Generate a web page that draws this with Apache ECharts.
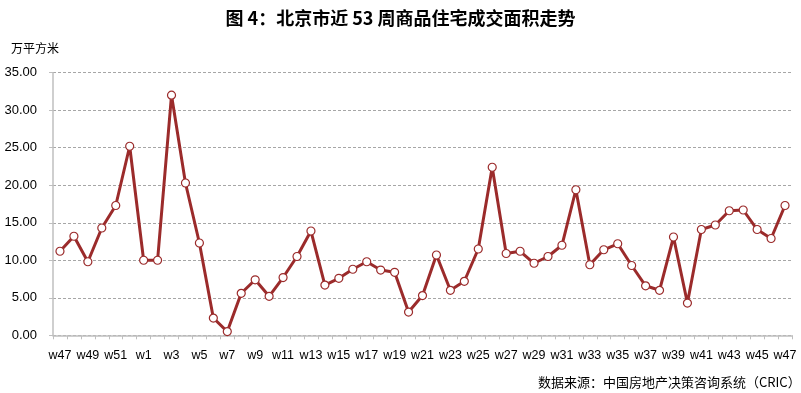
<!DOCTYPE html>
<html><head><meta charset="utf-8">
<script src="https://cdn.jsdelivr.net/npm/echarts@6/dist/echarts.min.js"></script>
<style>html,body{margin:0;padding:0;background:#fff}#c{width:801px;height:393px}</style>
</head><body><div id="c"></div>
<script>
const weeks = ["w47","w48","w49","w50","w51","w52","w1","w2","w3","w4","w5","w6","w7","w8","w9","w10","w11","w12","w13","w14","w15","w16","w17","w18","w19","w20","w21","w22","w23","w24","w25","w26","w27","w28","w29","w30","w31","w32","w33","w34","w35","w36","w37","w38","w39","w40","w41","w42","w43","w44","w45","w46","w47"];
const area = [11.2,13.2,9.8,14.3,17.3,25.2,10.0,10.0,32.0,20.3,12.3,2.3,0.5,5.6,7.4,5.2,7.7,10.5,13.9,6.7,7.6,8.8,9.8,8.7,8.4,3.1,5.3,10.7,6.0,7.2,11.5,22.4,10.9,11.2,9.6,10.5,12.0,19.4,9.4,11.4,12.2,9.3,6.6,6.0,13.1,4.3,14.1,14.7,16.6,16.7,14.1,12.9,17.3];
const yTicks = [0,5,10,15,20,25,30,35];
const title = "图 4：北京市近 53 周商品住宅成交面积走势";
const unit = "万平方米";
const source = "数据来源：中国房地产决策咨询系统（CRIC）";

const chart = echarts.init(document.getElementById('c'));
chart.setOption({
  animation:false,
  title:[
    {text:title,left:'center',top:4,textStyle:{fontFamily:'Noto Sans CJK SC',fontSize:18,fontWeight:'bold',color:'#000'}},
    {text:unit,left:6,top:37,textStyle:{fontFamily:'Noto Sans CJK SC',fontSize:12,fontWeight:'normal',color:'#000'}},
    {text:source,left:533,top:371,textStyle:{fontFamily:'Noto Sans CJK SC',fontSize:13,fontWeight:'normal',color:'#000'}}
  ],
  grid:{left:53,right:9,top:72.7,bottom:57.7,containLabel:false},
  xAxis:{type:'category',data:weeks,boundaryGap:true,
    axisLine:{lineStyle:{color:'#bfbfbf',width:1.5}},
    axisTick:{show:true,alignWithLabel:false,interval:0,length:4,lineStyle:{color:'#bfbfbf'}},
    axisLabel:{interval:1,margin:14,fontFamily:'Liberation Sans',fontSize:12.5,color:'#000'},
    splitLine:{show:false}},
  yAxis:{type:'value',min:0,max:35,interval:5,
    axisLine:{show:true,lineStyle:{color:'#bfbfbf',width:1.5}},
    axisTick:{show:true,inside:false,length:4,lineStyle:{color:'#bfbfbf'}},
    axisLabel:{margin:16,fontFamily:'Liberation Sans',fontSize:13,color:'#000',formatter:v=>yTicks.includes(v)?v.toFixed(2):''},
    splitLine:{show:true,lineStyle:{color:'#a6a6a6',type:[3,2],width:1}}},
  series:[{type:'line',data:area,lineStyle:{color:'#9b2b2b',width:3},
    symbol:'circle',symbolSize:8,
    itemStyle:{color:'#fff',borderColor:'#9b2b2b',borderWidth:1.2}}]
});
</script></body></html>
